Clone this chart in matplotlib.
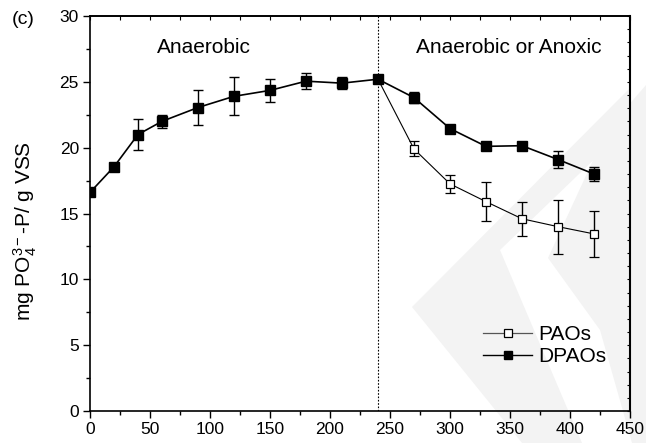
import numpy as np
import matplotlib
matplotlib.use("Agg")
import matplotlib.pyplot as plt
from matplotlib.patches import Polygon
from matplotlib.lines import Line2D
from matplotlib.ticker import MultipleLocator

plt.rcParams["font.family"] = ["Liberation Sans", "DejaVu Sans"]
plt.rcParams["mathtext.fontset"] = "custom"
plt.rcParams["mathtext.rm"] = "Liberation Sans"
plt.rcParams["mathtext.it"] = "Liberation Sans:italic"

# =====================================================
# DATA
# =====================================================

time_dpaos = [0, 20, 40, 60, 90, 120, 150, 180, 210, 240, 270, 300, 330, 360, 390, 420]
dpaos = [16.6, 18.55, 21.0, 22.0, 23.05, 23.9, 24.35, 25.05, 24.9, 25.2,
         23.8, 21.45, 20.1, 20.15, 19.1, 18.0]
dpaos_err = [0.2, 0.15, 1.2, 0.5, 1.3, 1.43, 0.85, 0.6, 0.45, 0.2,
             0.4, 0.2, 0.2, 0.2, 0.63, 0.5]

time_paos = [240, 270, 300, 330, 360, 390, 420]
paos = [25.2, 19.9, 17.25, 15.9, 14.6, 14.0, 13.45]
paos_err = [0.0, 0.57, 0.7, 1.5, 1.3, 2.05, 1.76]

switch_time = 240
phase_labels = ["Anaerobic", "Anaerobic or Anoxic"]
phase_x = [56, 272]

# faint watermark in the scanned figure (figure pixels, y down)
W, H = 646, 443
watermark = [
    [(412, 307), (630, 88), (630, 125), (500, 250), (582, 443), (522, 443)],
    [(607, 130), (646, 85), (646, 443), (632, 443), (600, 330), (548, 258)],
]

# =====================================================
# PLOT
# =====================================================

fig = plt.figure(figsize=(6.46, 4.43), dpi=100)
ax = fig.add_axes([90 / W, 1 - 411 / H, 540 / W, 395 / H])
ax.set_facecolor("none")
ax.set_zorder(2)

for verts in watermark:
    pts = [(x / W, 1 - y / H) for x, y in verts]
    fig.patches.append(Polygon(pts, closed=True, transform=fig.transFigure,
                               facecolor="#f3f3f3", edgecolor="none", zorder=-1))

ax.axvline(switch_time, color="black", lw=0.8, ls=(0, (1.5, 1.5)), zorder=1)

ax.errorbar(time_paos, paos, yerr=paos_err, fmt="-s", color="black", lw=0.8,
            ms=6, mfc="white", mec="black", mew=0.9,
            ecolor="black", elinewidth=1.0, capsize=3.6, capthick=1.0,
            zorder=3)
ax.errorbar(time_dpaos, dpaos, yerr=dpaos_err, fmt="-s", color="black", lw=1.2,
            ms=6.5, mfc="black", mec="black",
            ecolor="black", elinewidth=1.0, capsize=3.6, capthick=1.0,
            zorder=4)

ax.text(phase_x[0], 27.2, phase_labels[0], fontsize=15, ha="left", va="baseline")
ax.text(phase_x[1], 27.2, phase_labels[1], fontsize=15, ha="left", va="baseline")

ax.set_xlim(0, 450)
ax.set_ylim(0, 30)
ax.xaxis.set_major_locator(MultipleLocator(50))
ax.xaxis.set_minor_locator(MultipleLocator(25))
ax.yaxis.set_major_locator(MultipleLocator(5))
ax.yaxis.set_minor_locator(MultipleLocator(2.5))

ax.tick_params(axis="both", which="major", direction="out", length=5, width=1,
               labelsize=12.5, pad=3)
ax.tick_params(axis="both", which="minor", direction="out", length=3, width=1)

# inward ticks on top and right
axt = ax.secondary_xaxis("top")
axt.xaxis.set_major_locator(MultipleLocator(25))
axt.tick_params(direction="in", length=3, width=0.8, labeltop=False)
axr = ax.secondary_yaxis("right")
axr.yaxis.set_major_locator(MultipleLocator(1))
axr.tick_params(direction="in", length=2.5, width=0.8, labelright=False)

for s in ax.spines.values():
    s.set_linewidth(1.2)
axt.spines["top"].set_linewidth(1.2)
axr.spines["right"].set_linewidth(1.5)

ax.set_ylabel(r"mg PO$_4^{3-}$-P/ g VSS", fontsize=15)
ax.yaxis.set_label_coords(-0.094, 0.456)

fig.text(23 / W, 1 - 20 / H, "(c)", fontsize=14, ha="center", va="center")

handles = [
    Line2D([], [], color="#555555", lw=0.9, marker="s", ms=5.5,
           mfc="white", mec="black", mew=0.9),
    Line2D([], [], color="black", lw=1.0, marker="s", ms=5.5,
           mfc="black", mec="black"),
]
ax.legend(handles, ["PAOs", "DPAOs"], loc="center left",
          bbox_to_anchor=(0.728, 0.165), frameon=False,
          fontsize=15, handlelength=2.35, handletextpad=0.3,
          labelspacing=0.15, borderpad=0, borderaxespad=0)

fig.savefig("out.png", dpi=100)
